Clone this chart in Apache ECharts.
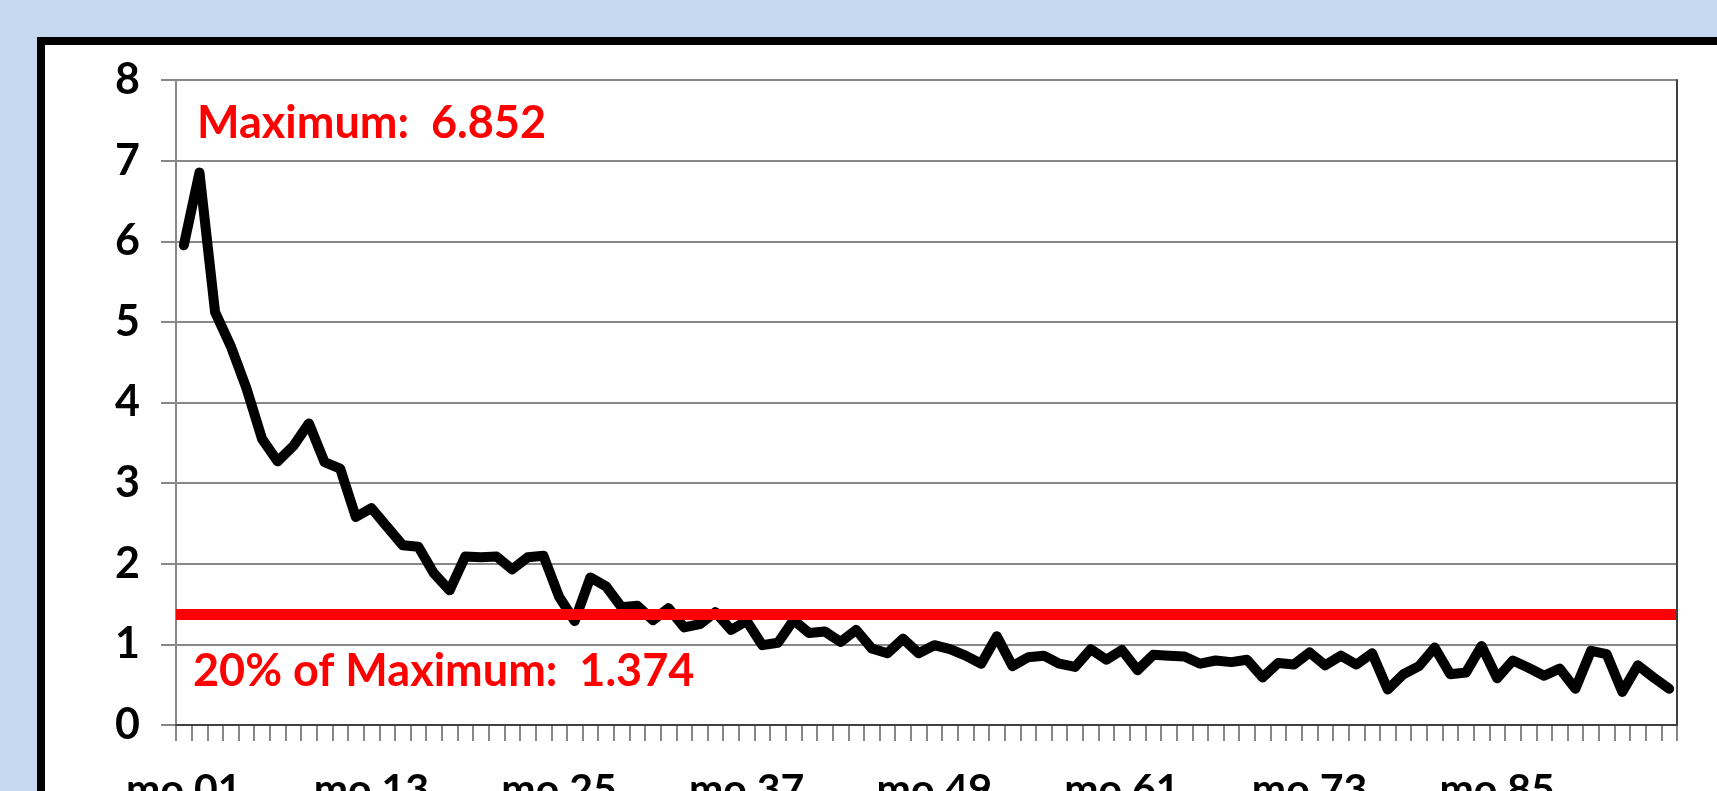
<!DOCTYPE html>
<html>
<head>
<meta charset="utf-8">
<script src="https://cdn.jsdelivr.net/npm/echarts@6/dist/echarts.min.js"></script>
<style>
  html, body { margin: 0; padding: 0; overflow: hidden; }
  body { width: 1717px; height: 791px; background: #c6d9f0; position: relative; }
  #frame {
    position: absolute; left: 37px; top: 37px;
    width: 1700px; height: 770px;
    border-left: 8px solid #000; border-top: 8px solid #000;
    background: #fff;
  }
  #chart { width: 1672px; height: 746px; }
</style>
</head>
<body>
<div id="frame"><div id="chart"></div></div>
<script>
const months = [
  "mo 01","mo 02","mo 03","mo 04","mo 05","mo 06","mo 07","mo 08","mo 09","mo 10","mo 11","mo 12",
  "mo 13","mo 14","mo 15","mo 16","mo 17","mo 18","mo 19","mo 20","mo 21","mo 22","mo 23","mo 24",
  "mo 25","mo 26","mo 27","mo 28","mo 29","mo 30","mo 31","mo 32","mo 33","mo 34","mo 35","mo 36",
  "mo 37","mo 38","mo 39","mo 40","mo 41","mo 42","mo 43","mo 44","mo 45","mo 46","mo 47","mo 48",
  "mo 49","mo 50","mo 51","mo 52","mo 53","mo 54","mo 55","mo 56","mo 57","mo 58","mo 59","mo 60",
  "mo 61","mo 62","mo 63","mo 64","mo 65","mo 66","mo 67","mo 68","mo 69","mo 70","mo 71","mo 72",
  "mo 73","mo 74","mo 75","mo 76","mo 77","mo 78","mo 79","mo 80","mo 81","mo 82","mo 83","mo 84",
  "mo 85","mo 86","mo 87","mo 88","mo 89","mo 90","mo 91","mo 92","mo 93","mo 94","mo 95","mo 96"
];

const values = [
  5.95, 6.852, 5.12, 4.70, 4.18, 3.55, 3.27, 3.46, 3.74, 3.26, 3.18, 2.58,
  2.69, 2.46, 2.23, 2.21, 1.88, 1.67, 2.09, 2.08, 2.09, 1.93, 2.08, 2.10,
  1.59, 1.29, 1.83, 1.72, 1.46, 1.48, 1.30, 1.45, 1.21, 1.25, 1.40, 1.18,
  1.29, 0.99, 1.02, 1.30, 1.14, 1.16, 1.03, 1.18, 0.95, 0.89, 1.07, 0.89,
  0.99, 0.94, 0.86, 0.76, 1.10, 0.73, 0.84, 0.86, 0.76, 0.72, 0.94, 0.81,
  0.93, 0.68, 0.87, 0.86, 0.85, 0.76, 0.80, 0.78, 0.81, 0.59, 0.77, 0.75,
  0.90, 0.74, 0.86, 0.75, 0.89, 0.44, 0.63, 0.73, 0.96, 0.63, 0.65, 0.98,
  0.58, 0.80, 0.71, 0.61, 0.70, 0.45, 0.92, 0.88, 0.41, 0.74, 0.59, 0.45
];

const maxValue = 6.852;
const twentyPct = 1.374;

const maxText = "Maximum:  6.852";
const pctText = "20% of Maximum:  1.374";

const font = "Lato, 'Open Sans', sans-serif";
const gray = "#878787";

var chartDom = document.getElementById("chart");
var myChart = echarts.init(chartDom);

const option = {
  animation: false,
  textStyle: { fontFamily: font },
  title: [
    {
      text: maxText,
      left: 152,
      top: 56,
      padding: 0,
      textStyle: { color: "#ff0000", fontSize: 45, fontWeight: "bold", fontFamily: font },
    },
    {
      text: pctText,
      left: 148,
      top: 604,
      padding: 0,
      textStyle: { color: "#ff0000", fontSize: 45, fontWeight: "bold", fontFamily: font },
    },
  ],
  grid: {
    left: 131,
    top: 35,
    width: 1501,
    height: 645,
    show: false,
    containLabel: false,
    outerBoundsMode: "none",
  },
  xAxis: [
    {
      type: "category",
      data: months,
      boundaryGap: true,
      axisLine: { lineStyle: { color: gray, width: 2 } },
      axisTick: { show: true, interval: 0, length: 16, lineStyle: { color: gray, width: 2 } },
      axisLabel: {
        interval: 11,
        margin: 44,
        color: "#000",
        fontSize: 41,
        fontWeight: "bold",
        fontFamily: font,
      },
      splitLine: { show: false },
    },
    {
      type: "category",
      data: months,
      position: "top",
      z: 5,
      axisLine: { show: true, lineStyle: { color: "#404040", width: 2 } },
      axisTick: { show: false },
      axisLabel: { show: false },
    },
  ],
  yAxis: [
    {
      type: "value",
      min: 0,
      max: 8,
      interval: 1,
      axisLine: { show: true, lineStyle: { color: gray, width: 2 } },
      axisTick: { show: true, length: 15, lineStyle: { color: gray, width: 2 } },
      axisLabel: {
        margin: 36,
        color: "#000",
        fontSize: 43,
        fontWeight: "bold",
        fontFamily: font,
      },
      splitLine: { show: true, lineStyle: { color: gray, width: 2 } },
    },
    {
      type: "value",
      min: 0,
      max: 8,
      interval: 1,
      position: "right",
      z: 5,
      axisLine: { show: true, lineStyle: { color: "#404040", width: 2 } },
      axisTick: { show: false },
      axisLabel: { show: false },
      splitLine: { show: false },
    },
  ],
  series: [
    {
      type: "line",
      data: values,
      showSymbol: false,
      symbol: "none",
      lineStyle: { color: "#000", width: 10, cap: "round", join: "round" },
      z: 3,
      markLine: {
        silent: true,
        symbol: "none",
        label: { show: false },
        lineStyle: { color: "#ff0000", width: 11, type: "solid" },
        data: [{ yAxis: twentyPct }],
        z: 4,
      },
    },
  ],
};

option && myChart.setOption(option);
</script>
</body>
</html>
